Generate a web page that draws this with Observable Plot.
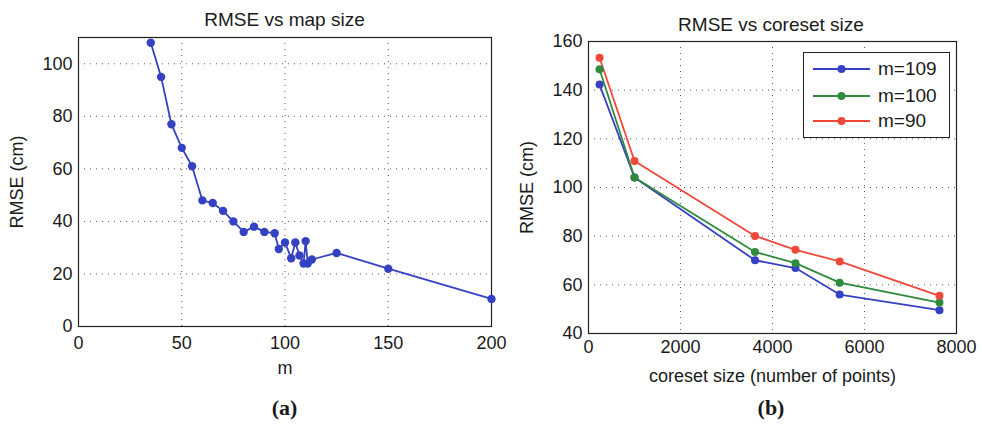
<!DOCTYPE html>
<html>
<head>
<meta charset="utf-8">
<script src="https://cdn.jsdelivr.net/npm/d3@7"></script>
<script src="https://cdn.jsdelivr.net/npm/@observablehq/plot@0.6"></script>
<style>
  body { margin: 0; background: #fff; }
  #wrap { position: relative; width: 982px; height: 430px; font-family: "Liberation Sans", Arial, sans-serif; color: #1a1a1a; overflow: hidden; }
  .abs { position: absolute; }
  .title { font-size: 19px; line-height: 19px; white-space: nowrap; transform: translateX(-50%); }
  .cap { font-family: "Liberation Serif", "Times New Roman", serif; font-weight: bold; font-size: 22px; line-height: 22px; transform: translateX(-50%); }
  #legend { border: 1px solid #222; background: #fff; box-sizing: border-box; }
  .lrow { position: absolute; left: 0; height: 20px; display: flex; align-items: center; font-size: 19px; white-space: nowrap; }
</style>
</head>
<body>
<div id="wrap"></div>
<script>
// ---------- Data ----------
// Panel (a): RMSE vs map size
const mapSize = [35, 40, 45, 50, 55, 60, 65, 70, 75, 80, 85, 90, 95, 97, 100, 103, 105, 107, 109, 110, 111, 113, 125, 150, 200];
const rmseMap = [108, 95, 77, 68, 61, 48, 47, 44, 40, 36, 38, 36, 35.5, 29.5, 32, 26, 32, 27, 24, 32.5, 24, 25.5, 28, 22, 10.5];
const xTicksA = [0, 50, 100, 150, 200];
const yTicksA = [0, 20, 40, 60, 80, 100];

// Panel (b): RMSE vs coreset size
const coresetSize = [240, 1000, 3620, 4500, 5460, 7630];
const rmseM109 = [142.3, 104.1, 70.1, 66.9, 56.0, 49.6];
const rmseM100 = [148.6, 104.1, 73.5, 68.9, 60.9, 52.7];
const rmseM90  = [153.3, 110.9, 80.1, 74.4, 69.6, 55.5];
const seriesNames = ["m=109", "m=100", "m=90"];
const seriesColors = ["#3441c2", "#2f8a3c", "#f0473b"];
const xTicksB = [0, 2000, 4000, 6000, 8000];
const yTicksB = [40, 60, 80, 100, 120, 140, 160];

const titleA = "RMSE vs map size";
const titleB = "RMSE vs coreset size";
const yLabel = "RMSE (cm)";
const xLabelA = "m";
const xLabelB = "coreset size (number of points)";

// ---------- Build tables ----------
const dataA = mapSize.map((m, i) => ({m, rmse: rmseMap[i]}));
const seriesVals = [rmseM109, rmseM100, rmseM90];
const dataB = seriesNames.flatMap((name, s) => coresetSize.map((c, i) => ({size: c, rmse: seriesVals[s][i], series: name})));

const wrap = document.getElementById("wrap");
const fontStyle = {fontFamily: '"Liberation Sans", Arial, sans-serif', fontSize: "18px", color: "#1a1a1a", background: "transparent", overflow: "visible"};
const gridOpts = {stroke: "#222", strokeOpacity: 0.75, strokeDasharray: "1,5", strokeWidth: 1};

// ---------- Panel (a) ----------
const plotA = Plot.plot({
  width: 500, height: 390,
  marginLeft: 78, marginRight: 9, marginTop: 37, marginBottom: 64,
  style: fontStyle,
  x: {domain: [0, 200]},
  y: {domain: [0, 110]},
  marks: [
    Plot.gridX(xTicksA, gridOpts),
    Plot.gridY(yTicksA, gridOpts),
    Plot.axisX(xTicksA, {tickSize: 0, tickPadding: 10, label: xLabelA, labelAnchor: "center", labelArrow: "none", labelOffset: 47}),
    Plot.axisY(yTicksA, {tickSize: 0, tickPadding: 6, label: yLabel, labelAnchor: "center", labelArrow: "none", labelOffset: 68}),
    Plot.frame({stroke: "#222", strokeWidth: 1.2}),
    Plot.line(dataA, {x: "m", y: "rmse", stroke: seriesColors[0], strokeWidth: 1.8}),
    Plot.dot(dataA, {x: "m", y: "rmse", r: 4.2, fill: seriesColors[0], stroke: "none"})
  ]
});
plotA.style.position = "absolute";
plotA.style.left = "0px";
plotA.style.top = "0px";
wrap.appendChild(plotA);

// ---------- Panel (b) ----------
const plotB = Plot.plot({
  width: 482, height: 400,
  marginLeft: 88, marginRight: 26, marginTop: 41, marginBottom: 67,
  style: fontStyle,
  x: {domain: [0, 8000]},
  y: {domain: [40, 160]},
  color: {domain: seriesNames, range: seriesColors},
  marks: [
    Plot.gridX(xTicksB, gridOpts),
    Plot.gridY(yTicksB, gridOpts),
    Plot.axisX(xTicksB, {tickSize: 0, tickPadding: 7, tickFormat: d3.format("d"), label: xLabelB, labelAnchor: "center", labelArrow: "none", labelOffset: 48}),
    Plot.axisY(yTicksB, {tickSize: 0, tickPadding: 6, label: yLabel, labelAnchor: "center", labelArrow: "none", labelOffset: 68}),
    Plot.frame({stroke: "#222", strokeWidth: 1.2}),
    Plot.line(dataB, {x: "size", y: "rmse", z: "series", stroke: "series", strokeWidth: 1.8}),
    Plot.dot(dataB, {x: "size", y: "rmse", fill: "series", r: 4, stroke: "none"})
  ]
});
plotB.style.position = "absolute";
plotB.style.left = "500px";
plotB.style.top = "0px";
wrap.appendChild(plotB);

// ---------- Titles & captions ----------
function addDiv(cls, text, left, top) {
  const d = document.createElement("div");
  d.className = "abs " + cls;
  d.textContent = text;
  d.style.left = left + "px";
  d.style.top = top + "px";
  wrap.appendChild(d);
  return d;
}
addDiv("title", titleA, 284.5, 10);
addDiv("title", titleB, 771, 14.5);
addDiv("cap", "(a)", 284.5, 397);
addDiv("cap", "(b)", 771, 397);

// ---------- Legend ----------
const legend = document.createElement("div");
legend.id = "legend";
legend.className = "abs";
Object.assign(legend.style, {left: "803px", top: "52px", width: "147px", height: "86px"});
const rowTops = [6, 32.5, 58];
seriesNames.forEach((name, i) => {
  const row = document.createElement("div");
  row.className = "lrow";
  row.style.top = rowTops[i] + "px";
  const ns = "http://www.w3.org/2000/svg";
  const svg = document.createElementNS(ns, "svg");
  svg.setAttribute("width", 72); svg.setAttribute("height", 20);
  const line = document.createElementNS(ns, "line");
  line.setAttribute("x1", 9); line.setAttribute("x2", 66); line.setAttribute("y1", 10); line.setAttribute("y2", 10);
  line.setAttribute("stroke", seriesColors[i]); line.setAttribute("stroke-width", 1.8);
  const c = document.createElementNS(ns, "circle");
  c.setAttribute("cx", 37.5); c.setAttribute("cy", 10); c.setAttribute("r", 4); c.setAttribute("fill", seriesColors[i]);
  svg.appendChild(line); svg.appendChild(c);
  const t = document.createElement("span");
  t.textContent = name;
  t.style.marginLeft = "2px";
  row.appendChild(svg); row.appendChild(t);
  legend.appendChild(row);
});
wrap.appendChild(legend);
</script>
</body>
</html>
